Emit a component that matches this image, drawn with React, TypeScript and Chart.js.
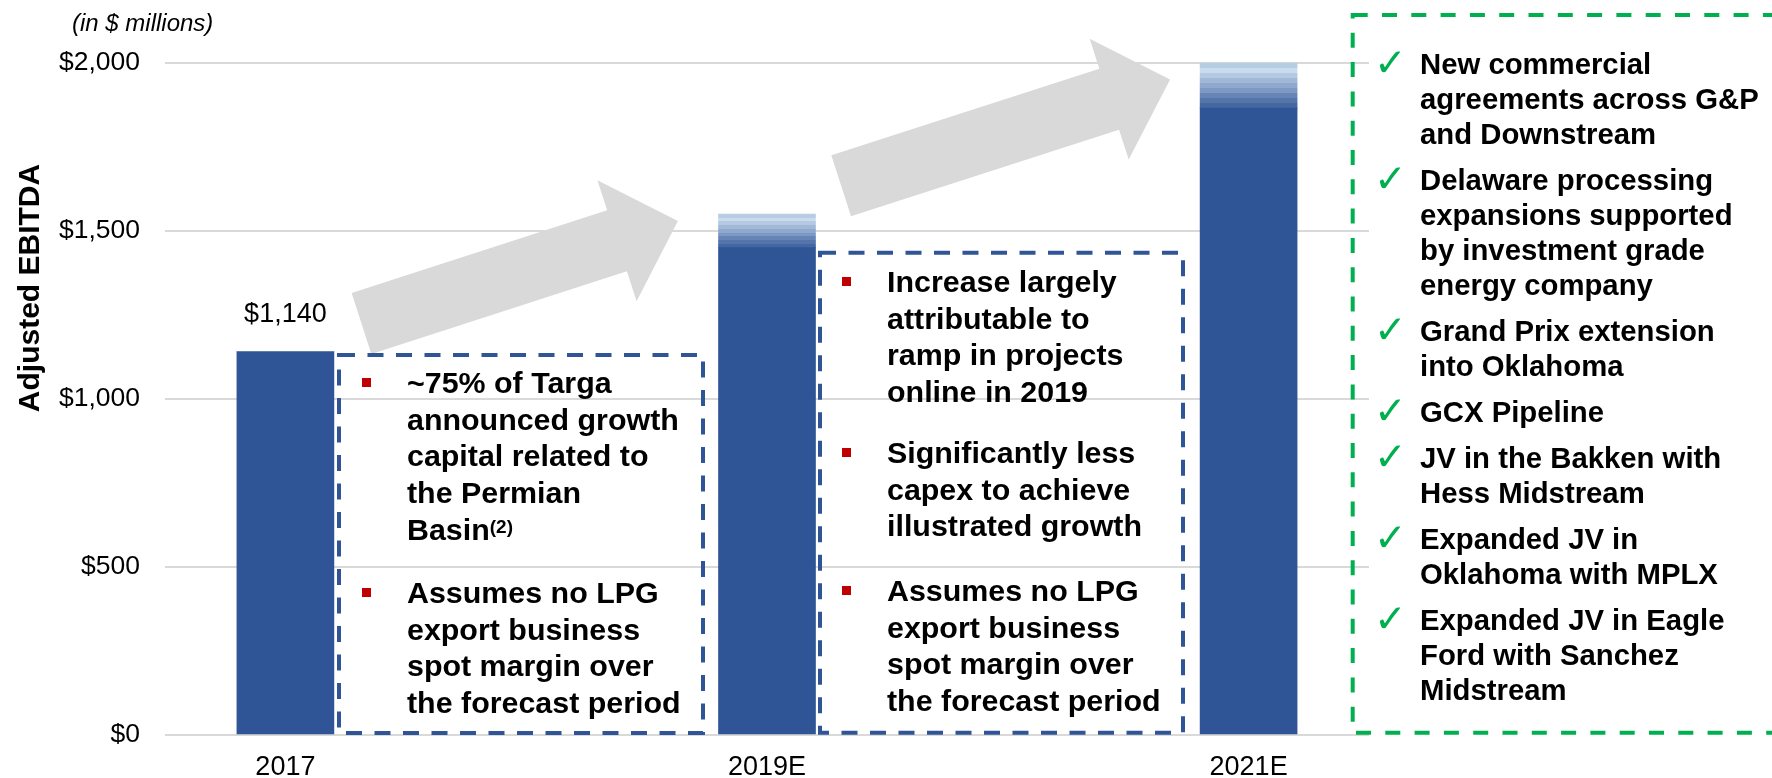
import React, { useEffect, useRef } from "react";
import { Chart, registerables } from "chart.js";

Chart.register(...registerables);

// ---------- data ----------
const categories = ["2017", "2019E", "2021E"];
const baseValues = [1140, 1450, 1865];
const rangeValues = [0, 100, 135];
const valueLabels = ["$1,140", "", ""];
const yTickValues = [0, 500, 1000, 1500, 2000];
const yAxisTitle = "Adjusted EBITDA";
const unitNote = "(in $ millions)";

const box1Paragraphs = [
  ["~75% of Targa", "announced growth", "capital related to", "the Permian", "Basin"],
  ["Assumes no LPG", "export business", "spot margin over", "the forecast period"],
];
const box1Footnote = "(2)";

const box2Paragraphs = [
  ["Increase largely", "attributable to", "ramp in projects", "online in 2019"],
  ["Significantly less", "capex to achieve", "illustrated growth"],
  ["Assumes no LPG", "export business", "spot margin over", "the forecast period"],
];

const checkItems = [
  ["New commercial", "agreements across G&P", "and Downstream"],
  ["Delaware processing", "expansions supported", "by investment grade", "energy company"],
  ["Grand Prix extension", "into Oklahoma"],
  ["GCX Pipeline"],
  ["JV in the Bakken with", "Hess Midstream"],
  ["Expanded JV in", "Oklahoma with MPLX"],
  ["Expanded JV in Eagle", "Ford with Sanchez", "Midstream"],
];

// ---------- styles ----------
const FONT = '"Liberation Sans", Arial, Helvetica, sans-serif';
const W = 1772;
const H = 778;
const BAR_COLOR = "#2F5597";
const BAND_COLORS = [
  "#b7cde4",
  "#c9dcef",
  "#b5c9e2",
  "#a2b8d7",
  "#8fa9ce",
  "#7c98c3",
  "#6684b6",
  "#5574ab",
  "#43679f",
];
const ARROW_COLOR = "#D9D9D9";
// arrows anchored in data space (x in category units, y in $ millions)
const ARROWS = [
  { from: [0.158, 1224], to: [0.815, 1529] },
  { from: [1.154, 1634], to: [1.837, 1950] },
];

function baselineTop(b: number, fs: number, lh: number) {
  return b - (lh - 1.117 * fs) / 2 - 0.905 * fs;
}

function Para({
  lines,
  left,
  baseline,
  fs,
  lh,
  footnote,
}: {
  lines: string[];
  left: number;
  baseline: number;
  fs: number;
  lh: number;
  footnote?: string;
}) {
  return (
    <div
      style={{
        position: "absolute",
        left,
        top: baselineTop(baseline, fs, lh),
        fontFamily: FONT,
        fontWeight: "bold",
        fontSize: fs,
        lineHeight: `${lh}px`,
        color: "#000",
        whiteSpace: "pre",
      }}
    >
      {lines.map((l, i) => (
        <div key={i} style={{ height: lh }}>
          {l}
          {footnote && i === lines.length - 1 ? (
            <span style={{ fontSize: 19, verticalAlign: "7px", lineHeight: 0 }}>{footnote}</span>
          ) : null}
        </div>
      ))}
    </div>
  );
}

function Bullet({ left, baseline }: { left: number; baseline: number }) {
  return (
    <div
      style={{
        position: "absolute",
        left,
        top: baseline - 15,
        width: 9,
        height: 9,
        background: "#C00000",
      }}
    />
  );
}

export default function App() {
  const canvasRef = useRef<HTMLCanvasElement | null>(null);

  useEffect(() => {
    const canvas = canvasRef.current;
    if (!canvas) return;

    const arrowsPlugin = {
      id: "arrows",
      beforeDatasetsDraw(chart: any) {
        const { ctx, scales } = chart;
        const xs = scales.x;
        const ys = scales.y;
        ctx.save();
        ctx.fillStyle = ARROW_COLOR;
        for (const a of ARROWS) {
          const tx = xs.getPixelForValue(a.from[0]);
          const ty = ys.getPixelForValue(a.from[1]);
          const px = xs.getPixelForValue(a.to[0]);
          const py = ys.getPixelForValue(a.to[1]);
          const dx = px - tx;
          const dy = py - ty;
          const L = Math.hypot(dx, dy);
          const ux = dx / L;
          const uy = dy / L;
          const nx = -uy;
          const ny = ux;
          const sh = 32;
          const hh = 63.5;
          const hl = 64;
          const bx = px - ux * hl;
          const by = py - uy * hl;
          ctx.beginPath();
          ctx.moveTo(tx + nx * sh, ty + ny * sh);
          ctx.lineTo(bx + nx * sh, by + ny * sh);
          ctx.lineTo(bx + nx * hh, by + ny * hh);
          ctx.lineTo(px, py);
          ctx.lineTo(bx - nx * hh, by - ny * hh);
          ctx.lineTo(bx - nx * sh, by - ny * sh);
          ctx.lineTo(tx - nx * sh, ty - ny * sh);
          ctx.closePath();
          ctx.fill();
        }
        ctx.restore();
      },
    };

    const labelsPlugin = {
      id: "valueLabels",
      afterDatasetsDraw(chart: any) {
        const { ctx } = chart;
        const meta = chart.getDatasetMeta(1);
        ctx.save();
        ctx.fillStyle = "#000";
        ctx.font = `27px ${FONT}`;
        ctx.textAlign = "center";
        ctx.textBaseline = "alphabetic";
        meta.data.forEach((el: any, i: number) => {
          const t = valueLabels[i];
          if (!t) return;
          ctx.fillText(t, el.x, el.y - 30);
        });
        ctx.restore();
      },
    };

    const rangeFill = (c: any) => {
      const chart = c.chart;
      const ys = chart.scales && chart.scales.y;
      if (!ys || c.type !== "data") return BAND_COLORS[4];
      const i = c.dataIndex;
      const top = ys.getPixelForValue(baseValues[i] + rangeValues[i]);
      const bottom = ys.getPixelForValue(baseValues[i]);
      if (!(bottom - top > 0.5) || !isFinite(top) || !isFinite(bottom)) return BAR_COLOR;
      const g = chart.ctx.createLinearGradient(0, top, 0, bottom);
      const n = BAND_COLORS.length;
      BAND_COLORS.forEach((col, k) => {
        g.addColorStop(k / n, col);
        g.addColorStop((k + 1) / n, col);
      });
      return g;
    };

    const chart = new Chart(canvas, {
      type: "bar",
      data: {
        datasets: [
          {
            label: "Adjusted EBITDA",
            data: categories.map((_, i) => ({ x: i, y: baseValues[i] })),
            backgroundColor: BAR_COLOR,
            barThickness: 97,
            stack: "s",
          },
          {
            label: "Range",
            data: categories.map((_, i) => ({ x: i, y: rangeValues[i] })),
            backgroundColor: rangeFill,
            barThickness: 97,
            stack: "s",
          },
        ],
      },
      options: {
        responsive: false,
        animation: false,
        events: [],
        layout: { padding: { left: 0, right: 403, top: 62.7, bottom: 0 } },
        plugins: {
          legend: { display: false },
          tooltip: { enabled: false },
          title: { display: false },
        },
        scales: {
          x: {
            type: "linear",
            min: -0.25,
            max: 2.25,
            offset: false,
            stacked: true,
            grid: { display: false },
            border: { display: false },
            afterBuildTicks: (s: any) => {
              s.ticks = categories.map((_, i) => ({ value: i }));
            },
            afterFit: (s: any) => {
              s.height = 43;
            },
            ticks: {
              autoSkip: false,
              maxRotation: 0,
              padding: 8,
              color: "#000",
              font: { family: FONT, size: 27 },
              callback: (v: any) => categories[v] ?? "",
            },
          },
          y: {
            min: 0,
            max: 2000,
            stacked: true,
            afterBuildTicks: (s: any) => {
              s.ticks = yTickValues.map((v) => ({ value: v }));
            },
            afterFit: (s: any) => {
              s.width = 165;
            },
            grid: { color: "#D9D9D9", lineWidth: 2, drawTicks: false },
            border: { display: false },
            ticks: {
              padding: 25,
              color: "#000",
              font: { family: FONT, size: 26.5 },
              callback: (v: any) => "$" + Number(v).toLocaleString("en-US"),
            },
          },
        },
      },
      plugins: [arrowsPlugin, labelsPlugin],
    } as any);

    return () => {
      chart.destroy();
    };
  }, []);

  // text layout
  const box1Baselines = [393, 603];
  const box2Baselines = [291.7, 463, 600.7];
  const checkBaselines: number[] = [];
  {
    let b = 74;
    checkItems.forEach((lines) => {
      checkBaselines.push(b);
      b += (lines.length - 1) * 35 + 46;
    });
  }

  return (
    <div
      style={{
        position: "absolute",
        left: 0,
        top: 0,
        width: W,
        height: H,
        overflow: "hidden",
        background: "#fff",
      }}
    >
      <canvas
        ref={canvasRef}
        width={W}
        height={H}
        style={{ position: "absolute", left: 0, top: 0, width: W, height: H }}
      />
      <svg
        width={W}
        height={H}
        style={{ position: "absolute", left: 0, top: 0, pointerEvents: "none" }}
      >
        <rect x={339} y={355} width={364} height={378} fill="none" stroke="#2F5597" strokeWidth={4} strokeDasharray="16 12.5" />
        <rect x={820} y={252.7} width={363} height={480} fill="none" stroke="#2F5597" strokeWidth={4} strokeDasharray="16 12.5" />
        <rect x={1352.7} y={15} width={500} height={717.7} fill="none" stroke="#00B050" strokeWidth={4} strokeDasharray="15 14.3" />
      </svg>

      {/* unit note */}
      <div
        style={{
          position: "absolute",
          left: 72,
          top: baselineTop(31, 24, 28),
          fontFamily: FONT,
          fontStyle: "italic",
          fontSize: 24,
          lineHeight: "28px",
          color: "#000",
          whiteSpace: "pre",
        }}
      >
        {unitNote}
      </div>

      {/* y-axis title */}
      <div
        style={{
          position: "absolute",
          left: 28.5,
          top: 288,
          transform: "translate(-50%, -50%) rotate(-90deg)",
          fontFamily: FONT,
          fontWeight: "bold",
          fontSize: 30,
          lineHeight: "30px",
          color: "#000",
          whiteSpace: "pre",
        }}
      >
        {yAxisTitle}
      </div>

      {/* box 1 */}
      {box1Paragraphs.map((p, i) => (
        <React.Fragment key={"b1" + i}>
          <Bullet left={362} baseline={box1Baselines[i]} />
          <Para
            lines={p}
            left={407}
            baseline={box1Baselines[i]}
            fs={30.4}
            lh={36.7}
            footnote={i === 0 ? box1Footnote : undefined}
          />
        </React.Fragment>
      ))}

      {/* box 2 */}
      {box2Paragraphs.map((p, i) => (
        <React.Fragment key={"b2" + i}>
          <Bullet left={842} baseline={box2Baselines[i]} />
          <Para lines={p} left={887} baseline={box2Baselines[i]} fs={30.4} lh={36.7} />
        </React.Fragment>
      ))}

      {/* check list */}
      {checkItems.map((lines, i) => (
        <React.Fragment key={"c" + i}>
          <div
            style={{
              position: "absolute",
              left: 1374,
              top: checkBaselines[i] - 31.4,
              fontFamily: '"DejaVu Sans", sans-serif',
              fontSize: 39,
              lineHeight: "39px",
              color: "#00B050",
            }}
          >
            {"\u2713"}
          </div>
          <Para lines={lines} left={1420} baseline={checkBaselines[i]} fs={29.3} lh={35} />
        </React.Fragment>
      ))}
    </div>
  );
}
